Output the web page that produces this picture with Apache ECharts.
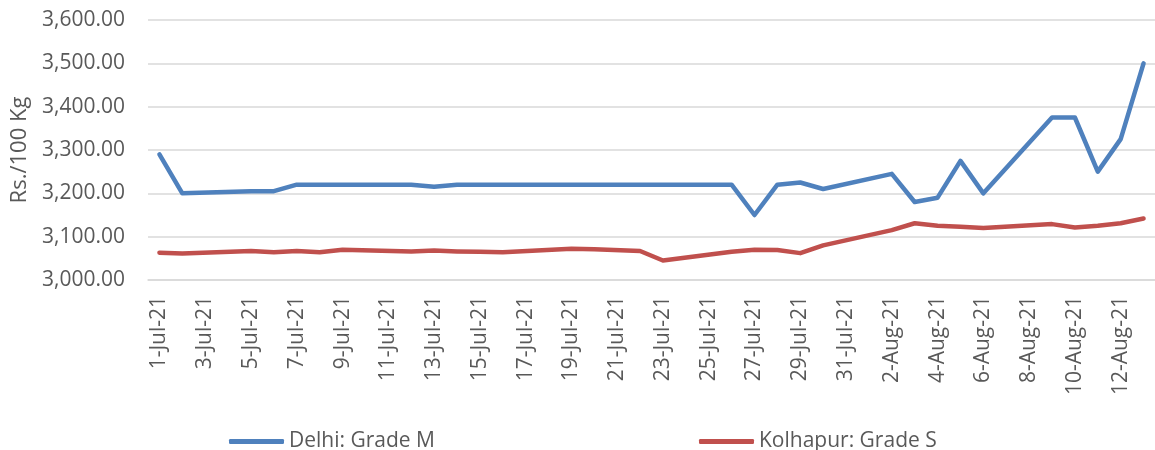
<!DOCTYPE html>
<html>
<head>
<meta charset="utf-8">
<script src="https://cdn.jsdelivr.net/npm/echarts@6/dist/echarts.min.js"></script>
<style>
  html, body { margin: 0; padding: 0; background: #fff; }
  #chart { width: 1155px; height: 450px; }
</style>
</head>
<body>
<div id="chart"></div>
<script>
// every calendar day on the axis, 1-Jul-21 .. 13-Aug-21
var dates = [
  '1-Jul-21', '2-Jul-21', '3-Jul-21', '4-Jul-21', '5-Jul-21', '6-Jul-21', '7-Jul-21', '8-Jul-21',
  '9-Jul-21', '10-Jul-21', '11-Jul-21', '12-Jul-21', '13-Jul-21', '14-Jul-21', '15-Jul-21',
  '16-Jul-21', '17-Jul-21', '18-Jul-21', '19-Jul-21', '20-Jul-21', '21-Jul-21', '22-Jul-21',
  '23-Jul-21', '24-Jul-21', '25-Jul-21', '26-Jul-21', '27-Jul-21', '28-Jul-21', '29-Jul-21',
  '30-Jul-21', '31-Jul-21', '1-Aug-21', '2-Aug-21', '3-Aug-21', '4-Aug-21', '5-Aug-21',
  '6-Aug-21', '7-Aug-21', '8-Aug-21', '9-Aug-21', '10-Aug-21', '11-Aug-21', '12-Aug-21', '13-Aug-21'
];

// Rs./100 Kg, null = no quote that day (weekends / holiday)
var delhi = [
  3290, 3200, null, null, 3205, 3205, 3220, 3220,
  3220, null, null, 3220, 3215, 3220, 3220,
  3220, null, null, 3220, 3220, null, 3220,
  3220, null, null, 3220, 3150, 3220, 3225,
  3210, null, null, 3245, 3180, 3190, 3275,
  3200, null, null, 3375, 3375, 3250, 3325, 3500
];
var kolhapur = [
  3063, 3061, null, null, 3067, 3064, 3067, 3064,
  3070, null, null, 3066, 3068, 3066, 3065,
  3064, null, null, 3072, 3071, null, 3067,
  3045, null, null, 3065, 3070, 3069, 3062,
  3080, null, null, 3115, 3131, 3125, 3123,
  3120, null, null, 3129, 3121, 3125, 3131, 3142
];

var textColor = '#595959';
var lineColor = '#d9d9d9';
var font = '"Open Sans", sans-serif';

var chart = echarts.init(document.getElementById('chart'));

var option = {
  backgroundColor: '#fff',
  animation: false,
  textStyle: { fontFamily: font },
  grid: { left: 148, top: 20, width: 1012, height: 260 },
  legend: {
    left: 224,
    top: 426,
    itemGap: 264,
    itemWidth: 55,
    itemHeight: 5,
    icon: 'roundRect',
    textStyle: { fontSize: 21, color: textColor, fontFamily: font },
    data: ['Delhi: Grade M', 'Kolhapur: Grade S']
  },
  xAxis: {
    type: 'category',
    data: dates,
    boundaryGap: true,
    axisLine: { lineStyle: { color: lineColor, width: 1.5 } },
    axisTick: { interval: 1, length: 8, lineStyle: { color: lineColor, width: 1.5 } },
    axisLabel: {
      interval: 1,
      rotate: 90,
      margin: 16,
      fontSize: 21,
      color: textColor,
      fontFamily: font
    },
    splitLine: { show: false }
  },
  yAxis: {
    type: 'value',
    min: 3000,
    max: 3600,
    interval: 100,
    name: 'Rs./100 Kg',
    nameLocation: 'middle',
    nameRotate: 90,
    nameGap: 116,
    nameTextStyle: { fontSize: 22, color: textColor, fontFamily: font },
    axisLine: { show: false },
    axisTick: { show: false },
    axisLabel: {
      margin: 23,
      fontSize: 21,
      color: textColor,
      fontFamily: font,
      formatter: function (v) {
        return v.toLocaleString('en-US', { minimumFractionDigits: 2, maximumFractionDigits: 2 });
      }
    },
    splitLine: { lineStyle: { color: lineColor, width: 1.5 } }
  },
  series: [
    {
      name: 'Delhi: Grade M',
      type: 'line',
      data: delhi,
      connectNulls: true,
      showSymbol: false,
      symbol: 'none',
      color: '#4f81bd',
      lineStyle: { width: 4.5, color: '#4f81bd', cap: 'round', join: 'round' }
    },
    {
      name: 'Kolhapur: Grade S',
      type: 'line',
      data: kolhapur,
      connectNulls: true,
      showSymbol: false,
      symbol: 'none',
      color: '#c0504d',
      lineStyle: { width: 4.5, color: '#c0504d', cap: 'round', join: 'round' }
    }
  ]
};

chart.setOption(option);
</script>
</body>
</html>
